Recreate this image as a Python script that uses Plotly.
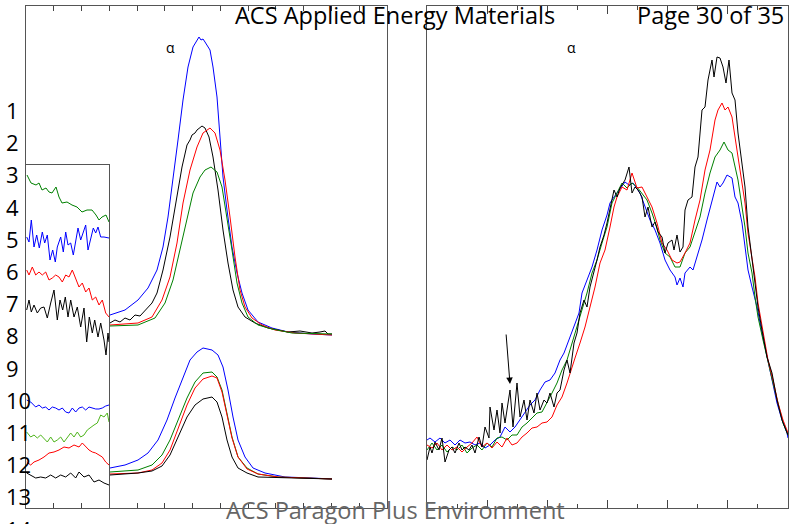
import plotly.graph_objects as go

W, H = 789, 524

# ---- left panel, main peaks (x, intensity) ----
up_blue_x = [84, 99, 112, 122, 131, 137, 142, 147, 152, 157, 162, 167, 170, 173, 175, 177, 179, 184, 187, 191, 194, 197, 201, 206, 211, 216, 222, 232, 246, 262, 286, 306]
up_blue_y = [193, 198, 208, 220, 238, 261, 291, 328, 368, 408, 441, 461, 466, 471, 468, 469, 466, 458, 441, 411, 371, 331, 298, 261, 235, 215, 198, 186, 180, 176, 174, 173]
up_black_x = [84, 89, 94, 99, 104, 109, 114, 119, 122, 126, 131, 137, 144, 151, 156, 161, 164, 166, 169, 171, 174, 176, 179, 183, 187, 192, 197, 202, 207, 212, 219, 229, 242, 262, 274, 286, 294, 299, 302, 306]
up_black_y = [185, 188, 186, 190, 188, 193, 192, 197, 200, 205, 215, 238, 271, 311, 341, 363, 368, 373, 375, 378, 380, 382, 380, 371, 351, 318, 278, 245, 218, 201, 191, 185, 180, 176, 177, 175, 176, 177, 174, 174]
up_red_x = [84, 112, 126, 136, 144, 151, 157, 164, 171, 177, 184, 189, 194, 199, 204, 209, 214, 219, 226, 236, 249, 269, 306]
up_red_y = [183, 185, 191, 208, 231, 265, 305, 338, 361, 375, 380, 375, 358, 328, 291, 251, 218, 201, 190, 183, 178, 175, 173]
up_green_x = [84, 112, 129, 139, 147, 154, 161, 167, 174, 179, 185, 191, 196, 201, 206, 211, 216, 222, 232, 246, 266, 306]
up_green_y = [182, 183, 190, 205, 228, 258, 288, 315, 331, 338, 341, 336, 321, 291, 258, 225, 205, 191, 183, 179, 175, 174]

lo_blue_x = [84, 99, 112, 122, 132, 141, 149, 157, 164, 171, 177, 186, 192, 197, 202, 207, 212, 219, 227, 239, 259, 286, 306]
lo_blue_y = [40, 43, 48, 55, 68, 88, 110, 131, 148, 156, 160, 158, 153, 141, 118, 91, 68, 51, 40, 35, 31, 30, 29]
lo_green_x = [84, 112, 126, 136, 144, 152, 161, 169, 177, 186, 191, 196, 201, 206, 212, 221, 232, 252, 306]
lo_green_y = [36, 38, 43, 53, 68, 88, 110, 126, 135, 136, 131, 118, 95, 71, 51, 40, 34, 31, 29]
lo_red_x = [84, 112, 126, 136, 144, 152, 161, 169, 177, 186, 191, 196, 201, 206, 212, 221, 232, 252, 306]
lo_red_y = [34, 35, 38, 45, 58, 80, 103, 120, 129, 132, 130, 116, 93, 70, 51, 39, 34, 31, 29]
lo_black_x = [84, 112, 126, 136, 144, 152, 161, 169, 177, 186, 191, 196, 201, 206, 212, 221, 232, 306]
lo_black_y = [33, 35, 37, 42, 53, 71, 91, 103, 109, 111, 106, 91, 68, 51, 40, 35, 31, 29]

# ---- inset (baseline region, expanded) ----
in_green_x = [1, 5, 10, 13, 16, 20, 23, 26, 30, 33, 36, 41, 46, 51, 56, 61, 66, 70, 73, 76, 80, 83]
in_green_y = [333, 325, 323, 325, 318, 320, 316, 315, 321, 311, 305, 306, 303, 301, 296, 298, 298, 293, 288, 291, 293, 286]
in_blue_x = [0.7, 3, 5.3, 8, 10.7, 13.3, 16.3, 18.7, 21.3, 24, 26.7, 29.3, 31.3, 34.7, 37.3, 39.7, 42, 44.7, 47.3, 49.7, 52, 54.7, 57.3, 59.7, 62, 64.7, 67.3, 69.7, 72, 74.7, 78, 83]
in_blue_y = [271, 266, 288, 261, 273, 260, 276, 265, 273, 248, 258, 246, 261, 271, 256, 276, 263, 265, 253, 268, 280, 268, 276, 283, 258, 271, 280, 275, 281, 271, 271, 270]
in_red_x = [0.7, 3, 6.3, 9.7, 13, 16.3, 19.7, 23, 26.3, 29.7, 33, 36.3, 39.7, 43, 46.3, 49.7, 53, 56.3, 59.7, 63, 66.3, 69.7, 73, 76.3, 79.7, 83]
in_red_y = [238, 233, 241, 233, 236, 233, 236, 228, 230, 233, 231, 226, 233, 231, 238, 230, 221, 225, 216, 220, 208, 211, 203, 208, 195, 191]
in_black_x = [0.7, 3, 5.3, 8, 11.3, 14.7, 18, 21.3, 24.7, 28, 31.3, 34, 36.7, 39.3, 42, 44.7, 48, 51.3, 54.7, 58, 60.7, 63.3, 66.3, 68.7, 72, 74.7, 78, 80, 82, 83]
in_black_y = [198, 208, 196, 203, 195, 200, 201, 190, 205, 218, 188, 208, 198, 211, 191, 208, 191, 201, 181, 200, 166, 191, 175, 188, 171, 185, 168, 153, 175, 166]

in2_blue_x = [0.7, 4.7, 9.7, 13, 16.3, 19.7, 23, 26.3, 29.7, 33, 36.3, 39.7, 43, 46.3, 49.7, 53, 56.3, 59.7, 63, 66.3, 69.7, 73, 76.3, 79.7, 83]
in2_blue_y = [108, 106, 101, 103, 100, 101, 98, 101, 100, 98, 100, 96, 95, 100, 96, 100, 101, 98, 101, 100, 99, 99, 100, 102, 103]
in2_green_x = [0.7, 4.7, 8, 11.3, 14.7, 18, 21.3, 24.7, 28, 31.3, 34.7, 38, 41.3, 44.7, 48, 51.3, 54.7, 58, 61.3, 64.7, 68, 71.3, 74.7, 78, 81.3, 83]
in2_green_y = [76, 71, 73, 70, 73, 70, 66, 71, 66, 68, 71, 66, 70, 75, 71, 76, 71, 73, 78, 81, 83, 85, 93, 91, 95, 86]
in2_red_x = [0.7, 4.7, 8, 13, 18, 23, 28, 33, 38, 43, 48, 53, 56.3, 59.7, 63, 66.3, 69.7, 73, 76.3, 79.7, 83]
in2_red_y = [46, 43, 46, 48, 51, 55, 56, 58, 61, 60, 63, 61, 65, 61, 58, 56, 55, 53, 51, 46, 43]
in2_black_x = [0.7, 4.7, 9.7, 14.7, 19.7, 24.7, 29.7, 34.7, 39.7, 44.7, 49.7, 53, 58, 63, 68, 73, 78, 83]
in2_black_y = [35, 33, 30, 31, 30, 33, 30, 33, 31, 35, 30, 36, 31, 33, 26, 28, 25, 23]

# ---- right panel ----
r_blue_x = [0, 3, 8, 13, 18, 23, 28, 33, 38, 43, 48, 53, 58, 63, 68, 73, 78, 83, 88, 93, 98, 103, 108, 113, 118, 123, 128, 133, 137, 142, 147, 152, 155, 160, 165, 170, 175, 180, 183, 187, 192, 198, 202, 206, 213, 218, 223, 228, 233, 238, 243, 248, 250, 253, 256, 258, 263, 266, 271, 275, 280, 285, 290, 293, 296, 300, 305, 308, 311, 315, 318, 321, 325, 330, 335, 340, 345, 350, 355, 360, 361]
r_blue_y = [68, 70, 66, 70, 65, 68, 63, 68, 65, 66, 63, 65, 60, 63, 68, 71, 81, 76, 81, 88, 96, 103, 108, 118, 126, 128, 135, 148, 155, 168, 181, 195, 215, 228, 241, 258, 278, 293, 305, 311, 318, 326, 323, 325, 315, 301, 288, 278, 265, 248, 238, 231, 223, 230, 221, 235, 241, 238, 255, 268, 288, 308, 326, 321, 325, 333, 330, 311, 305, 285, 261, 238, 221, 201, 175, 151, 128, 105, 88, 75, 70]
r_black_x = [0, 3, 5, 8, 12, 15, 18, 22, 25, 28, 32, 35, 38, 42, 45, 48, 52, 55, 58, 62, 63, 67, 70, 73, 75, 78, 83, 86, 90, 93, 97, 100, 103, 107, 110, 113, 117, 120, 123, 127, 130, 133, 137, 140, 143, 147, 150, 153, 157, 160, 163, 167, 170, 173, 177, 180, 183, 187, 190, 193, 198, 202, 205, 208, 211, 215, 218, 221, 225, 228, 231, 235, 238, 241, 245, 247, 250, 253, 256, 258, 261, 265, 268, 271, 275, 278, 281, 285, 287, 290, 293, 296, 299, 302, 305, 308, 311, 315, 318, 321, 325, 328, 331, 335, 340, 345, 350, 355, 360, 361]
r_black_y = [48, 61, 55, 66, 58, 70, 46, 58, 61, 55, 65, 58, 61, 58, 63, 55, 71, 61, 81, 70, 101, 78, 98, 75, 105, 85, 118, 81, 125, 91, 108, 88, 108, 95, 115, 98, 108, 105, 115, 101, 115, 118, 138, 148, 135, 165, 175, 195, 208, 201, 221, 235, 248, 261, 273, 285, 298, 318, 311, 320, 328, 341, 315, 321, 318, 311, 291, 301, 281, 286, 276, 271, 255, 265, 268, 258, 273, 256, 261, 298, 308, 311, 341, 351, 398, 401, 428, 448, 431, 451, 450, 441, 425, 448, 415, 408, 375, 341, 321, 281, 251, 228, 201, 178, 151, 135, 108, 88, 75, 73]
r_red_x = [0, 5, 10, 15, 20, 25, 30, 35, 40, 45, 50, 55, 60, 65, 70, 75, 80, 85, 90, 95, 100, 105, 110, 115, 120, 125, 130, 135, 140, 143, 148, 153, 158, 163, 168, 173, 178, 183, 187, 190, 195, 200, 205, 210, 215, 220, 225, 230, 235, 240, 245, 250, 253, 258, 263, 268, 273, 278, 283, 288, 291, 295, 298, 301, 305, 308, 311, 315, 318, 321, 325, 328, 331, 336, 341, 346, 351, 356, 361]
r_red_y = [63, 60, 65, 58, 63, 58, 61, 56, 61, 65, 71, 61, 65, 60, 66, 61, 70, 63, 65, 71, 75, 80, 81, 85, 86, 91, 103, 111, 125, 135, 150, 165, 181, 201, 221, 245, 258, 281, 301, 311, 321, 318, 335, 320, 321, 311, 301, 285, 265, 258, 248, 245, 246, 255, 265, 288, 308, 338, 358, 388, 398, 405, 398, 401, 391, 371, 351, 328, 305, 275, 251, 231, 205, 175, 148, 128, 105, 88, 75]
r_green_x = [0, 5, 10, 15, 20, 25, 30, 35, 40, 45, 50, 55, 60, 65, 70, 75, 80, 85, 90, 95, 100, 105, 110, 115, 120, 125, 130, 135, 140, 145, 150, 155, 160, 165, 170, 175, 180, 185, 190, 195, 200, 205, 210, 215, 220, 225, 230, 233, 238, 243, 248, 253, 258, 263, 268, 273, 278, 283, 288, 293, 297, 301, 305, 308, 311, 315, 318, 321, 325, 328, 331, 336, 341, 346, 351, 356, 361]
r_green_y = [58, 65, 58, 63, 56, 61, 58, 63, 55, 60, 63, 58, 65, 61, 70, 71, 68, 73, 73, 81, 85, 90, 95, 96, 105, 115, 125, 138, 148, 165, 181, 198, 215, 235, 248, 265, 281, 305, 315, 325, 320, 325, 321, 315, 308, 295, 280, 268, 255, 251, 241, 241, 255, 261, 275, 291, 315, 335, 351, 358, 366, 358, 355, 341, 328, 301, 281, 255, 235, 211, 191, 168, 145, 125, 105, 85, 73]

line_numbers = [str(i) for i in range(1, 15)]

BLUE, RED, GREEN, BLACK = "#0000ff", "#ff0000", "#008000", "#000000"
LIGHTGREEN = "#4fb51c"

fig = go.Figure()


def add(x, y, color, ax="x", ay="y"):
    fig.add_trace(go.Scatter(x=x, y=y, mode="lines", xaxis=ax, yaxis=ay,
                             line=dict(color=color, width=1), showlegend=False,
                             hoverinfo="skip"))


for xs, ys, c in [(up_blue_x, up_blue_y, BLUE), (up_black_x, up_black_y, BLACK),
                  (up_red_x, up_red_y, RED), (up_green_x, up_green_y, GREEN),
                  (lo_blue_x, lo_blue_y, BLUE), (lo_green_x, lo_green_y, GREEN),
                  (lo_red_x, lo_red_y, RED), (lo_black_x, lo_black_y, BLACK)]:
    add(xs, ys, c)

for xs, ys, c in [(in_green_x, in_green_y, GREEN), (in_blue_x, in_blue_y, BLUE),
                  (in_red_x, in_red_y, RED), (in_black_x, in_black_y, BLACK),
                  (in2_blue_x, in2_blue_y, BLUE), (in2_green_x, in2_green_y, LIGHTGREEN),
                  (in2_red_x, in2_red_y, RED), (in2_black_x, in2_black_y, BLACK)]:
    add(xs, ys, c, "x3", "y3")

for xs, ys, c in [(r_blue_x, r_blue_y, BLUE), (r_green_x, r_green_y, GREEN),
                  (r_red_x, r_red_y, RED), (r_black_x, r_black_y, BLACK)]:
    add(xs, ys, c, "x2", "y2")

frame = dict(showline=True, linecolor="#555", linewidth=1.2, mirror="ticks",
             showgrid=False, zeroline=False, showticklabels=False)
ydom = [16 / H, 518 / H]
lstep = 361 / 13
rstep = 361 / 12

fig.update_layout(
    width=W, height=H, margin=dict(l=0, r=0, t=0, b=0),
    paper_bgcolor="white", plot_bgcolor="rgba(0,0,0,0)",
    xaxis=dict(frame, domain=[26 / W, 387 / W], range=[0, 361], anchor="y", ticks="inside",
               ticklen=5, tickcolor="#444", tickvals=[lstep * k for k in range(1, 13)]),
    yaxis=dict(frame, domain=ydom, range=[0, 502], anchor="x", ticks=""),
    xaxis2=dict(frame, domain=[427 / W, 788 / W], range=[0, 361], anchor="y2", ticks="inside",
                ticklen=8, tickcolor="#444", tickvals=[rstep * k for k in range(2, 12, 2)],
                minor=dict(ticks="inside", ticklen=4, tickcolor="#444",
                           tickvals=[rstep * k for k in range(1, 12, 2)])),
    yaxis2=dict(frame, domain=ydom, range=[0, 502], anchor="x2", ticks=""),
    xaxis3=dict(frame, domain=[26 / W, 109 / W], range=[0, 83], anchor="y3", ticks=""),
    yaxis3=dict(frame, domain=[16 / H, 359 / H], range=[0, 343], anchor="x3", ticks=""),
)

font = "Open Sans, Noto Sans, sans-serif"
ann = [
    dict(text="α", x=144, y=460, xref="x", yref="y", showarrow=False,
         font=dict(family=font, size=14, color="black")),
    dict(text="α", x=144, y=460, xref="x2", yref="y2", showarrow=False,
         font=dict(family=font, size=14, color="black")),
    dict(text="", x=83, y=124, ax=79, ay=175, xref="x2", yref="y2", axref="x2", ayref="y2",
         showarrow=True, arrowhead=2, arrowsize=1.3, arrowwidth=1, arrowcolor="black"),
    dict(text="ACS Applied Energy Materials", x=395 / W, y=1 - 15 / H, xref="paper",
         yref="paper", showarrow=False, xanchor="center", yanchor="middle",
         font=dict(family=font, size=23.5, color="black")),
    dict(text="Page 30 of 35", x=786 / W, y=1 - 15 / H, xref="paper", yref="paper",
         showarrow=False, xanchor="right", yanchor="middle",
         font=dict(family=font, size=23.5, color="black")),
    dict(text="ACS Paragon Plus Environment", x=396 / W, y=1 - 510 / H, xref="paper",
         yref="paper", showarrow=False, xanchor="center", yanchor="middle",
         font=dict(family=font, size=23.5, color="#666")),
]
for i, lab in enumerate(line_numbers):
    ann.append(dict(text=lab, x=4 / W, y=1 - (110 + 32.2 * i) / H, xref="paper",
                    yref="paper", showarrow=False, xanchor="left", yanchor="middle",
                    font=dict(family=font, size=22, color="black")))
fig.update_layout(annotations=ann)

fig.write_html("out.html", config={"displayModeBar": False},
               post_script="document.body.style.margin='0';"
               "document.body.style.overflow='hidden';")
